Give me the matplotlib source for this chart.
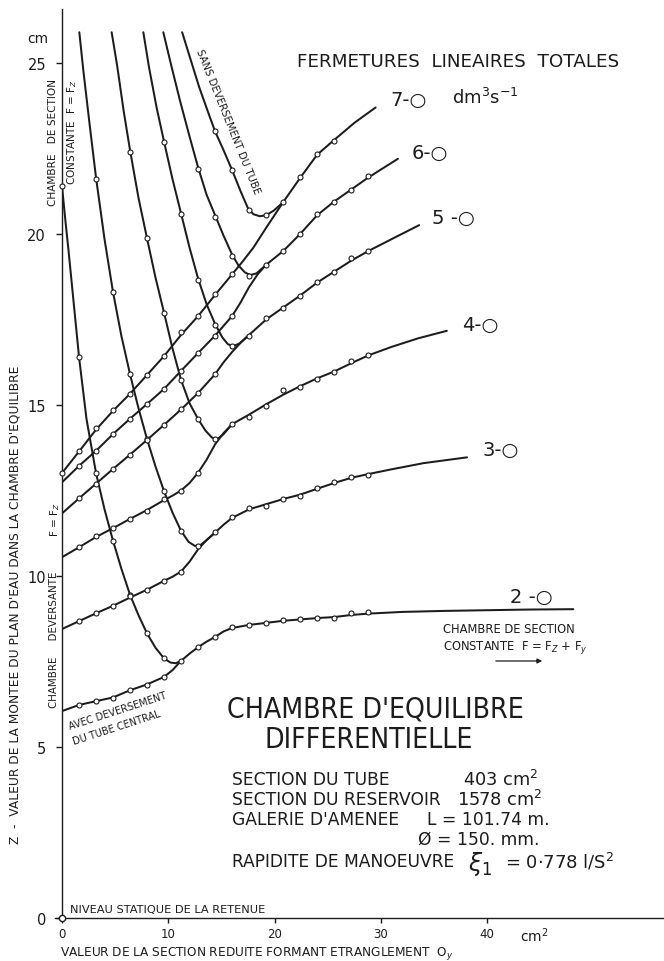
import matplotlib
matplotlib.use("Agg")
import matplotlib.pyplot as plt
from matplotlib import font_manager

# ---------------- data ----------------
# Q = 2 dm3/s
q2_desc_x = [0, 0.3, 0.6, 1.0, 1.6, 2.3, 3.2, 4.0, 4.8, 5.6, 6.4, 7.2, 8.0, 8.8, 9.6, 10.2, 10.7, 11.2]
q2_desc_y = [21.4, 20.45, 19.56, 18.3, 16.41, 14.6, 13.01, 11.95, 11.03, 10.2, 9.45, 8.85, 8.32, 7.9, 7.59, 7.47, 7.45, 7.52]
q2_desc_px = [0, 1.6, 3.2, 4.8, 6.4, 8.0, 9.6]
q2_desc_py = [21.4, 16.41, 13.01, 11.03, 9.45, 8.32, 7.59]
q2_rise_x = [0, 1.6, 3.2, 4.8, 6.4, 8.0, 9.6, 10.4, 11.2, 12.0, 12.8, 13.6, 14.4, 15.2, 16.0, 17.6, 19.2, 20.8, 22.4, 24.0, 25.6, 27.2, 28.8, 32, 36, 40, 44, 48.1]
q2_rise_y = [6.05, 6.23, 6.34, 6.45, 6.66, 6.83, 7.05, 7.25, 7.52, 7.73, 7.92, 8.08, 8.22, 8.38, 8.48, 8.57, 8.63, 8.69, 8.73, 8.77, 8.8, 8.86, 8.9, 8.95, 8.98, 9.0, 9.02, 9.03]
q2_rise_px = [1.6, 3.2, 4.8, 6.4, 8.0, 9.6, 11.2, 12.8, 14.4, 16.0, 17.6, 19.2, 20.8, 22.4, 24.0, 25.6, 27.2, 28.8]
q2_rise_py = [6.23, 6.34, 6.43, 6.68, 6.82, 7.04, 7.52, 7.91, 8.22, 8.52, 8.56, 8.62, 8.72, 8.73, 8.77, 8.77, 8.92, 8.94]

# Q = 3 dm3/s
q3_desc_x = [1.63, 2.0, 2.6, 3.2, 4.0, 4.8, 5.6, 6.4, 7.2, 8.0, 8.8, 9.6, 10.4, 11.2, 11.9, 12.5, 13.0, 13.6, 14.4]
q3_desc_y = [25.9, 24.8, 23.2, 21.65, 19.85, 18.3, 17.0, 15.9, 14.9, 14.0, 13.2, 12.48, 11.85, 11.32, 11.0, 10.88, 10.9, 11.05, 11.27]
q3_desc_px = [3.2, 4.8, 6.4, 8.0, 9.6, 11.2, 12.8]
q3_desc_py = [21.6, 18.3, 15.9, 14.0, 12.48, 11.32, 10.88]
q3_rise_x = [0, 1.6, 3.2, 4.8, 6.4, 8.0, 9.6, 10.4, 11.2, 12.0, 12.8, 13.6, 14.4, 15.2, 16.0, 17.6, 19.2, 20.8, 22.4, 24.0, 25.6, 27.2, 28.8, 31, 34, 38.1]
q3_rise_y = [8.45, 8.68, 8.91, 9.13, 9.37, 9.6, 9.86, 9.98, 10.13, 10.42, 10.78, 11.05, 11.27, 11.5, 11.7, 11.95, 12.1, 12.25, 12.38, 12.55, 12.72, 12.87, 12.98, 13.12, 13.3, 13.47]
q3_rise_px = [1.6, 3.2, 4.8, 6.4, 8.0, 9.6, 11.2, 14.4, 16.0, 17.6, 19.2, 20.8, 22.4, 24.0, 25.6, 27.2, 28.8]
q3_rise_py = [8.69, 8.92, 9.11, 9.42, 9.59, 9.86, 10.13, 11.29, 11.73, 12.0, 12.06, 12.25, 12.35, 12.56, 12.74, 12.9, 12.96]

# Q = 4 dm3/s
q4_desc_x = [4.67, 5.2, 5.8, 6.4, 7.2, 8.0, 8.8, 9.6, 10.4, 11.2, 12.0, 12.8, 13.5, 14.1, 14.6, 15.2, 16.0]
q4_desc_y = [25.9, 24.9, 23.6, 22.45, 21.05, 19.87, 18.72, 17.7, 16.65, 15.73, 15.05, 14.59, 14.25, 14.05, 14.0, 14.15, 14.44]
q4_desc_px = [6.4, 8.0, 9.6, 11.2, 12.8, 14.4]
q4_desc_py = [22.4, 19.87, 17.7, 15.73, 14.59, 14.02]
q4_rise_x = [0, 1.6, 3.2, 4.8, 6.4, 8.0, 9.6, 10.4, 11.2, 12.0, 12.8, 13.6, 14.4, 15.2, 16.0, 17.6, 19.2, 20.8, 22.4, 24.0, 25.6, 27.2, 28.8, 31, 33.5, 36.2]
q4_rise_y = [10.55, 10.84, 11.14, 11.4, 11.67, 11.93, 12.22, 12.35, 12.5, 12.72, 13.02, 13.4, 13.85, 14.18, 14.44, 14.72, 15.02, 15.3, 15.55, 15.78, 15.98, 16.22, 16.45, 16.7, 16.95, 17.17]
q4_rise_px = [1.6, 3.2, 4.8, 6.4, 8.0, 9.6, 11.2, 12.8, 16.0, 17.6, 19.2, 20.8, 22.4, 24.0, 25.6, 27.2, 28.8]
q4_rise_py = [10.84, 11.16, 11.39, 11.68, 11.9, 12.25, 12.49, 13.0, 14.44, 14.66, 14.98, 15.45, 15.53, 15.76, 15.97, 16.29, 16.46]

# Q = 5 dm3/s
q5_desc_x = [7.65, 8.2, 8.9, 9.6, 10.4, 11.2, 12.0, 12.8, 13.6, 14.4, 15.1, 15.6, 16.1, 16.7, 17.6]
q5_desc_y = [25.9, 24.85, 23.7, 22.7, 21.6, 20.6, 19.6, 18.7, 17.95, 17.37, 16.97, 16.78, 16.72, 16.8, 17.05]
q5_desc_px = [9.6, 11.2, 12.8, 14.4, 16.0]
q5_desc_py = [22.7, 20.6, 18.66, 17.35, 16.73]
q5_rise_x = [0, 1.6, 3.2, 4.8, 6.4, 8.0, 9.6, 11.2, 12.8, 14.4, 15.2, 16.0, 16.8, 17.6, 19.2, 20.8, 22.4, 24.0, 25.6, 27.2, 28.8, 31, 33.6]
q5_rise_y = [11.83, 12.27, 12.7, 13.13, 13.55, 13.98, 14.42, 14.87, 15.35, 15.9, 16.25, 16.55, 16.82, 17.05, 17.5, 17.85, 18.2, 18.58, 18.9, 19.22, 19.5, 19.85, 20.26]
q5_rise_px = [1.6, 3.2, 4.8, 6.4, 8.0, 9.6, 11.2, 12.8, 14.4, 17.6, 19.2, 20.8, 22.4, 24.0, 25.6, 27.2, 28.8]
q5_rise_py = [12.27, 12.7, 13.13, 13.55, 13.98, 14.42, 14.87, 15.35, 15.9, 17.03, 17.53, 17.85, 18.2, 18.6, 18.9, 19.3, 19.5]

# Q = 6 dm3/s
q6_desc_x = [9.53, 10.3, 11.1, 12.0, 12.8, 13.6, 14.4, 15.2, 16.0, 16.6, 17.2, 17.7, 18.3, 19.2]
q6_desc_y = [25.9, 24.9, 23.9, 22.85, 21.95, 21.15, 20.55, 19.95, 19.4, 19.08, 18.88, 18.8, 18.85, 19.1]
q6_desc_px = [12.8, 14.4, 16.0, 17.6]
q6_desc_py = [21.9, 20.5, 19.37, 18.78]
q6_rise_x = [0, 1.6, 3.2, 4.8, 6.4, 8.0, 9.6, 11.2, 12.8, 14.4, 16.0, 16.8, 17.6, 18.4, 19.2, 20.8, 22.4, 24.0, 25.6, 27.2, 28.8, 31.6]
q6_rise_y = [12.74, 13.22, 13.66, 14.15, 14.6, 15.03, 15.47, 16.0, 16.52, 17.03, 17.6, 18.0, 18.45, 18.82, 19.1, 19.5, 20.0, 20.55, 20.95, 21.3, 21.65, 22.2]
q6_rise_px = [1.6, 3.2, 4.8, 6.4, 8.0, 9.6, 11.2, 12.8, 14.4, 16.0, 19.2, 20.8, 22.4, 24.0, 25.6, 27.2, 28.8]
q6_rise_py = [13.22, 13.66, 14.15, 14.6, 15.03, 15.47, 16.0, 16.52, 17.03, 17.6, 19.1, 19.5, 20.0, 20.6, 20.95, 21.3, 21.7]

# Q = 7 dm3/s
q7_desc_x = [11.3, 12.1, 12.9, 13.7, 14.4, 15.2, 16.0, 16.8, 17.5, 18.0, 18.6, 19.2, 19.9, 20.8]
q7_desc_y = [25.9, 25.1, 24.3, 23.6, 23.0, 22.45, 21.87, 21.25, 20.75, 20.58, 20.52, 20.55, 20.68, 20.93]
q7_desc_px = [14.4, 16.0, 17.6, 19.2]
q7_desc_py = [23.0, 21.87, 20.7, 20.55]
q7_rise_x = [0, 1.6, 3.2, 4.8, 6.4, 8.0, 9.6, 11.2, 12.8, 14.4, 16.0, 17.0, 18.0, 19.2, 20.8, 22.4, 24.0, 25.6, 27.5, 29.5]
q7_rise_y = [13.01, 13.64, 14.28, 14.83, 15.33, 15.88, 16.43, 17.05, 17.6, 18.22, 18.82, 19.2, 19.6, 20.18, 20.93, 21.64, 22.32, 22.75, 23.25, 23.7]
q7_rise_px = [0, 1.6, 3.2, 4.8, 6.4, 8.0, 9.6, 11.2, 12.8, 14.4, 16.0, 20.8, 22.4, 24.0, 25.6]
q7_rise_py = [13.01, 13.66, 14.32, 14.85, 15.32, 15.88, 16.42, 17.14, 17.61, 18.25, 18.83, 20.93, 21.66, 22.34, 22.73]

series = [
    (q2_desc_x, q2_desc_y, q2_desc_px, q2_desc_py, q2_rise_x, q2_rise_y, q2_rise_px, q2_rise_py),
    (q3_desc_x, q3_desc_y, q3_desc_px, q3_desc_py, q3_rise_x, q3_rise_y, q3_rise_px, q3_rise_py),
    (q4_desc_x, q4_desc_y, q4_desc_px, q4_desc_py, q4_rise_x, q4_rise_y, q4_rise_px, q4_rise_py),
    (q5_desc_x, q5_desc_y, q5_desc_px, q5_desc_py, q5_rise_x, q5_rise_y, q5_rise_px, q5_rise_py),
    (q6_desc_x, q6_desc_y, q6_desc_px, q6_desc_py, q6_rise_x, q6_rise_y, q6_rise_px, q6_rise_py),
    (q7_desc_x, q7_desc_y, q7_desc_px, q7_desc_py, q7_rise_x, q7_rise_y, q7_rise_px, q7_rise_py),
]

x_ticks = [0, 10, 20, 30, 40]
y_ticks = [0, 5, 10, 15, 20, 25]

# ---------------- figure ----------------
W, H = 664, 962
INK = "#1c1c1c"
FONT = ["DejaVu Sans"]
plt.rcParams["font.family"] = FONT

# pick a condensed face if one is installed, else plain DejaVu at a smaller size
_names = {f.name for f in font_manager.fontManager.ttflist}
_cond = [f for f in font_manager.fontManager.ttflist
         if f.name == "DejaVu Sans" and "Condensed" in f.fname
         and "Bold" not in f.fname and "Oblique" not in f.fname]
if _cond:
    TITLE_KW = dict(fontproperties=font_manager.FontProperties(fname=_cond[0].fname, size=20.3))
elif "Liberation Sans Narrow" in _names:
    TITLE_KW = dict(family="Liberation Sans Narrow", fontsize=21)
else:
    TITLE_KW = dict(fontsize=17.5)

fig = plt.figure(figsize=(W / 100, H / 100), dpi=100)
fig.patch.set_facecolor("white")


def fx(p):
    return p / W


def fy(p):
    return 1 - p / H


ax = fig.add_axes([fx(62), fy(919), fx(664) - fx(62), fy(10) - fy(919)])
ax.set_xlim(0, 56.63)
ax.set_ylim(0, 26.58)
for s in ["top", "right"]:
    ax.spines[s].set_visible(False)
for s in ["left", "bottom"]:
    ax.spines[s].set_linewidth(1.0)
    ax.spines[s].set_color(INK)
ax.set_xticks(x_ticks)
ax.set_xticklabels([str(v) for v in x_ticks], fontsize=8.5, color=INK)
ax.set_yticks(y_ticks)
ax.set_yticklabels([str(v) for v in y_ticks], fontsize=10.5, color=INK)
ax.tick_params(axis="x", direction="out", length=3.5, width=1.0, pad=3, colors=INK)
ax.tick_params(axis="y", direction="out", length=4, width=1.0, pad=7.5, colors=INK)
ax.patch.set_alpha(0)

LW = 1.45
for dx, dy, dpx, dpy, rx, ry, rpx, rpy in series:
    ax.plot(dx, dy, color=INK, lw=LW, solid_capstyle="round", zorder=3)
    ax.plot(rx, ry, color=INK, lw=LW, solid_capstyle="round", zorder=3)
    ax.plot(dpx, dpy, "o", ms=3.6, mfc="white", mec=INK, mew=0.8, zorder=4, clip_on=False)
    ax.plot(rpx, rpy, "o", ms=3.6, mfc="white", mec=INK, mew=0.8, zorder=4, clip_on=False)

# origin circle and small axis stub
ax.plot([0], [0], "o", ms=4.5, mfc="white", mec=INK, mew=1.0, zorder=5, clip_on=False)
ax.plot([-0.65, 0], [0, 0], color=INK, lw=1.0, clip_on=False)


def T(x, y, s, size=None, **kw):
    kw.setdefault("color", INK)
    kw.setdefault("ha", "center")
    kw.setdefault("va", "center")
    if size is not None:
        kw["fontsize"] = size
    fig.text(fx(x), fy(y), s, **kw)


# axis texts
T(38, 39, "cm", 10)
T(534, 936, "cm$^2$", 10)
T(60, 954, "VALEUR DE LA SECTION REDUITE FORMANT ETRANGLEMENT  O$_y$", 8.7, ha="left")
T(15, 605, "Z  -  VALEUR DE LA MONTEE DU PLAN D'EAU DANS LA CHAMBRE D'EQUILIBRE", 8.8, rotation=90)
T(70, 910, "NIVEAU STATIQUE DE LA RETENUE", 8.2, ha="left")

# titles
T(458, 62, "FERMETURES  LINEAIRES  TOTALES", 13.2)
T(375, 710, "CHAMBRE D'EQUILIBRE", **TITLE_KW)
T(369, 740, "DIFFERENTIELLE", **TITLE_KW)

# curve labels
T(390, 100, "7-○", 14, ha="left")
T(452, 98, "dm$^3$s$^{-1}$", 13, ha="left")
T(412, 153, "6-○", 14, ha="left")
T(432, 218, "5 -○", 14, ha="left")
T(462, 325, "4-○", 14, ha="left")
T(482, 450, "3-○", 14, ha="left")
T(510, 597, "2 -○", 14, ha="left")

# vertical notes near the axis
T(53, 143, "CHAMBRE   DE SECTION", 7.6, rotation=90)
T(72, 132, "CONSTANTE  F = F$_Z$", 7.6, rotation=90)
T(55, 520, "F = F$_Z$", 7.6, rotation=90)
T(54, 640, "CHAMBRE     DEVERSANTE", 7.4, rotation=90)
T(228, 122, "SANS DEVERSEMENT DU TUBE", 7.3, rotation=-68)
T(118, 711, "AVEC DEVERSEMENT", 7.0, rotation=18)
T(117, 728, "DU TUBE CENTRAL", 7.0, rotation=18)

# constant-section note with arrow
T(443, 630, "CHAMBRE DE SECTION", 8.3, ha="left")
T(443, 648, "CONSTANTE  F = F$_Z$ + F$_y$", 8.3, ha="left")
fig.add_artist(matplotlib.patches.FancyArrowPatch((fx(493), fy(662)), (fx(545), fy(662)),
               transform=fig.transFigure, arrowstyle="-|>", mutation_scale=7, lw=0.9, color=INK))

# parameter block
T(232, 780, "SECTION DU TUBE", 12.3, ha="left")
T(463, 780, "403 cm$^2$", 12.8, ha="left")
T(232, 800, "SECTION DU RESERVOIR", 12.3, ha="left")
T(457, 800, "1578 cm$^2$", 12.8, ha="left")
T(232, 820, "GALERIE D'AMENEE", 12.3, ha="left")
T(427, 820, "L = 101.74 m.", 12.3, ha="left")
T(418, 840, "Ø = 150. mm.", 12.3, ha="left")
T(232, 862, "RAPIDITE DE MANOEUVRE", 12.3, ha="left")
T(468, 864, r"$\xi_1$", 17, ha="left")
T(505, 862, "= 0·778 l/S$^2$", 13, ha="left")

fig.savefig("out.png", dpi=100, facecolor="white")
